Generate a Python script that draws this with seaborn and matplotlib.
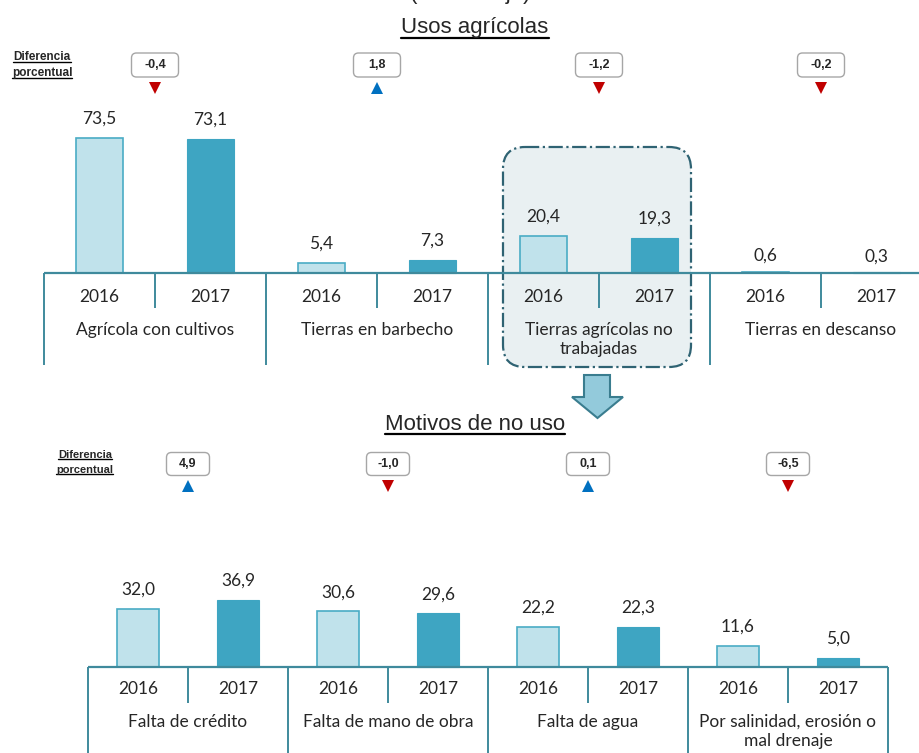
import numpy as np
import pandas as pd
import matplotlib
matplotlib.use('Agg')
import matplotlib.pyplot as plt
import matplotlib.transforms as mtransforms
from matplotlib.patches import FancyBboxPatch, Polygon
from matplotlib.lines import Line2D
import seaborn as sns

# datos
years = ['2016', '2017']

usos_cats = ['Agrícola con cultivos', 'Tierras en barbecho',
             'Tierras agrícolas no\ntrabajadas', 'Tierras en descanso']
usos_2016 = [73.5, 5.4, 20.4, 0.6]
usos_2017 = [73.1, 7.3, 19.3, 0.3]
usos_dif = [-0.4, 1.8, -1.2, -0.2]

motivos_cats = ['Falta de crédito', 'Falta de mano de obra', 'Falta de agua',
                'Por salinidad, erosión o\nmal drenaje']
motivos_2016 = [32.0, 30.6, 22.2, 11.6]
motivos_2017 = [36.9, 29.6, 22.3, 5.0]
motivos_dif = [4.9, -1.0, 0.1, -6.5]

sns.set_style('white')
plt.rcParams['font.family'] = ['Lato', 'DejaVu Sans']
narrow = ['Liberation Sans Narrow', 'Liberation Sans', 'DejaVu Sans']

W, H = 920, 753
fig = plt.figure(figsize=(W / 100, H / 100), dpi=100)
px = mtransforms.Affine2D().scale(1 / W, -1 / H).translate(0, 1) + fig.transFigure

light, dark = '#c0e2eb', '#3ea5c2'
edge16 = '#4aacc5'
line_c = '#3f8a9c'
to_underline = []


def fmt(v):
    return f'{v:.1f}'.replace('.', ',')


def panel(cats, v16, v17, dif, left, gw, base, scale, top, bottom, gap,
          border_end, inner_end, year_y, cat_y, box_y, tri_y, box_w, box_h,
          lab_x, lab_y, lab_size):
    ax = fig.add_axes([left / W, 1 - bottom / H, 4 * gw / W, (bottom - top) / H])
    df = pd.DataFrame({'cat': cats * 2,
                       'year': [years[0]] * 4 + [years[1]] * 4,
                       'valor': v16 + v17})
    sns.barplot(data=df, x='cat', y='valor', hue='year', palette=[light, dark],
                width=1, gap=gap, saturation=1, legend=False, ax=ax, zorder=2)
    ax.set_xlim(-0.5, 3.5)
    ax.set_ylim(-(bottom - base) / scale, (base - top) / scale)
    ax.axis('off')

    for bar in ax.containers[0]:
        bar.set_edgecolor(edge16)
        bar.set_linewidth(1.2)
    for bar in ax.containers[1]:
        bar.set_edgecolor(dark)
        bar.set_linewidth(0.8)

    # valores y años
    for k, cont in enumerate(ax.containers):
        for bar in cont:
            xc = bar.get_x() + bar.get_width() / 2
            h = bar.get_height()
            off = 19 if h > 2 else 16
            ax.text(xc, h + off / scale, fmt(h), ha='center', va='center',
                    fontsize=12.5, zorder=5)
            ax.text(xc, -(year_y - base) / scale, years[k], ha='center',
                    va='center', fontsize=12.5, zorder=5)

    ax.axhline(0, color=line_c, lw=1.6, zorder=3)
    ax.vlines(np.arange(5) - 0.5, -(border_end - base) / scale, 0,
              color=line_c, lw=1.4, clip_on=False, zorder=3)
    ax.vlines(np.arange(4), -(inner_end - base) / scale, 0,
              color=line_c, lw=1.4, clip_on=False, zorder=3)

    for i, c in enumerate(cats):
        ax.text(i, -(cat_y - base) / scale, c, ha='center', va='top',
                fontsize=12.5, linespacing=1.25, zorder=5)

    # diferencia porcentual
    for i, d in enumerate(dif):
        xc = left + gw * (i + 0.5)
        box = FancyBboxPatch((xc - box_w / 2, box_y - box_h / 2), box_w, box_h,
                             boxstyle='round,pad=0,rounding_size=5',
                             transform=px, fc='white', ec='#a6a6a6', lw=1)
        fig.add_artist(box)
        fig.text(xc, box_y, fmt(d), transform=px, ha='center', va='center',
                 fontsize=9, fontweight='bold', family=narrow)
        up = d > 0
        ax.plot(i, (base - tri_y) / scale, marker='^' if up else 'v',
                color='#0070c0' if up else '#c00000', ms=8, mew=0,
                clip_on=False)

    for j, s in enumerate(['Diferencia', 'porcentual']):
        t = fig.text(lab_x, lab_y[j], s, transform=px, ha='center', va='center',
                     fontsize=lab_size, fontweight='bold', family=narrow)
        to_underline.append(t)
    return ax


ax1 = panel(usos_cats, usos_2016, usos_2017, usos_dif,
            left=44, gw=222, base=273, scale=1.837, top=40, bottom=370,
            gap=0.585, border_end=365, inner_end=308, year_y=297, cat_y=322,
            box_y=65, tri_y=88, box_w=47, box_h=24,
            lab_x=42, lab_y=[57, 73], lab_size=8.5)

ax2 = panel(motivos_cats, motivos_2016, motivos_2017, motivos_dif,
            left=88, gw=200, base=667, scale=1.815, top=440, bottom=753,
            gap=0.58, border_end=753, inner_end=703, year_y=689, cat_y=714,
            box_y=464, tri_y=486, box_w=43, box_h=23,
            lab_x=85, lab_y=[455, 470], lab_size=8)

# recuadro de tierras no trabajadas
hl = FancyBboxPatch((503, 147), 188, 220, boxstyle='round,pad=0,rounding_size=22',
                    transform=px, fc='#e9f0f2', ec='#2f6373',
                    lw=1.6, ls='-.', zorder=1, clip_on=False)
ax1.add_patch(hl)

# flecha hacia abajo
arrow = Polygon([(584, 375), (610, 375), (610, 397), (623, 397), (597.5, 418),
                 (572, 397), (584, 397)], closed=True, transform=px,
                fc='#93cadb', ec='#3a7d8f', lw=1.5)
fig.add_artist(arrow)

# títulos
fig.text(470, -1, '(Porcentaje)', transform=px, ha='center', va='baseline',
         fontsize=16, family=narrow)
to_underline.append(fig.text(475, 28, 'Usos agrícolas', transform=px,
                             ha='center', va='center', fontsize=16, family=narrow))
to_underline.append(fig.text(475, 425, 'Motivos de no uso', transform=px,
                             ha='center', va='center', fontsize=16, family=narrow))

fig.canvas.draw()
for t in to_underline:
    bb = t.get_window_extent()
    lw = 1.6 if t.get_fontsize() > 12 else 1.0
    fig.add_artist(Line2D([bb.x0, bb.x1], [bb.y0 + 1, bb.y0 + 1],
                          transform=mtransforms.IdentityTransform(),
                          color='black', lw=lw))

fig.savefig('out.png', dpi=100)
